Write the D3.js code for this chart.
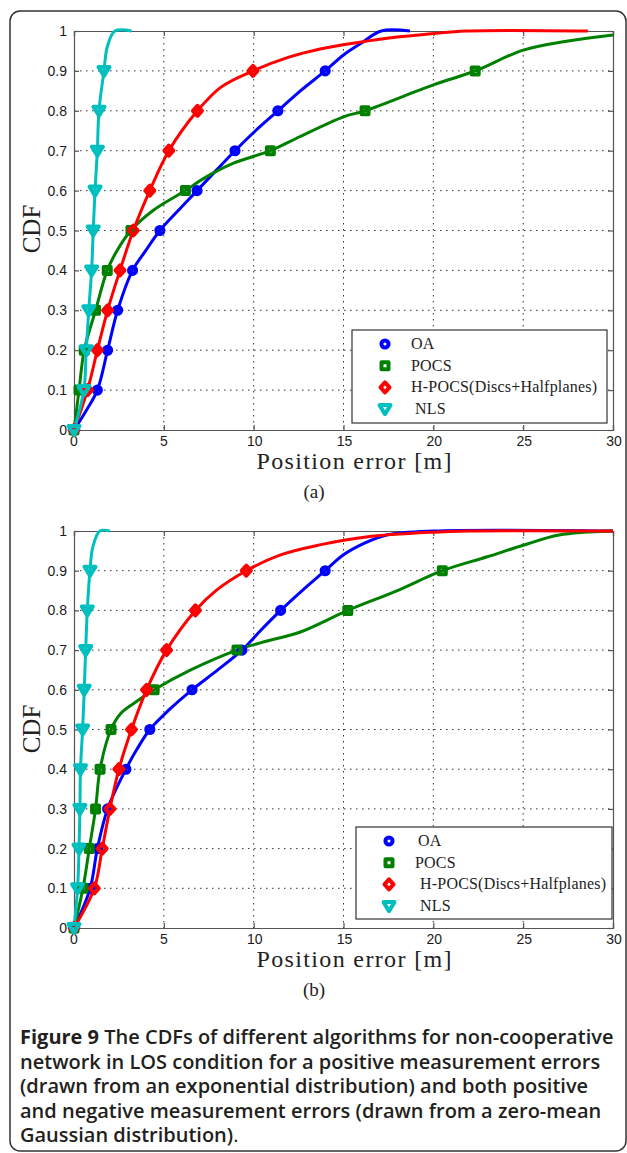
<!DOCTYPE html>
<html>
<head>
<meta charset="utf-8">
<script src="https://cdn.jsdelivr.net/npm/d3@7"></script>
<style>
    body { margin: 0; background: #fff; }
    svg { display: block; }
    .tick-label { font-family: 'Liberation Sans', Arial, sans-serif; font-size: 14px; fill: #1a1a1a; }
    .serif { font-family: 'Liberation Serif', 'Times New Roman', serif; fill: #222; }
    .caption { font-family: 'Open Sans', 'Noto Sans', sans-serif; font-size: 20px; fill: #231f20; }
</style>
</head>
<body>
<div id="chart"></div>
<script>
// CDF of position error, two panels: (a) exponential errors, (b) gaussian errors

const seriesNames = ['OA', 'POCS', 'H-POCS(Discs+Halfplanes)', 'NLS'];
const xTicks = [0, 5, 10, 15, 20, 25, 30];
const yTicks = [0, 0.1, 0.2, 0.3, 0.4, 0.5, 0.6, 0.7, 0.8, 0.9, 1];
const yTickLabels = ['0', '0.1', '0.2', '0.3', '0.4', '0.5', '0.6', '0.7', '0.8', '0.9', '1'];

// panel (a) curves: [position error (m), CDF]
const oaA = [[0, 0], [0.7, 0.05], [1.3, 0.1], [1.87, 0.2], [2.43, 0.3], [3.26, 0.4], [4.0, 0.45], [4.78, 0.5],
    [5.8, 0.55], [6.85, 0.6], [7.9, 0.65], [8.96, 0.7], [10.1, 0.75], [11.35, 0.8], [12.6, 0.85], [13.98, 0.9],
    [15.0, 0.94], [16.0, 0.97], [17.1, 1.0], [18.7, 1.0]];
const pocsA = [[0, 0], [0.28, 0.1], [0.57, 0.2], [1.2, 0.3], [1.85, 0.4], [2.4, 0.45], [3.17, 0.5], [4.4, 0.55],
    [6.2, 0.6], [7.2, 0.63], [8.85, 0.668], [10.93, 0.7], [12.56, 0.735], [15.0, 0.785], [16.2, 0.8], [20.0, 0.865],
    [22.33, 0.9], [25.0, 0.952], [27.5, 0.975], [30, 0.99]];
const hpocsA = [[0, 0], [0.75, 0.1], [1.3, 0.2], [1.87, 0.3], [2.56, 0.4], [3.3, 0.5], [4.22, 0.6], [5.28, 0.7],
    [6.87, 0.8], [8.2, 0.86], [9.96, 0.9], [12.0, 0.935], [13.7, 0.955], [15.9, 0.972], [18.0, 0.985],
    [19.9, 0.993], [21.8, 1.0], [28.6, 1.0]];
const nlsA = [[0, 0], [0.55, 0.1], [0.68, 0.2], [0.82, 0.3], [0.98, 0.4], [1.07, 0.5], [1.17, 0.6], [1.3, 0.7],
    [1.39, 0.8], [1.67, 0.9], [1.85, 0.96], [2.28, 1.0], [3.2, 1.0]];

// panel (b) curves
const oaB = [[0, 0], [0.9, 0.1], [1.3, 0.2], [1.87, 0.3], [2.89, 0.4], [3.5, 0.45], [4.22, 0.5], [5.3, 0.55],
    [6.57, 0.6], [8.0, 0.65], [9.35, 0.7], [10.4, 0.75], [11.5, 0.8], [12.7, 0.85], [13.98, 0.9], [15.0, 0.94],
    [16.2, 0.97], [17.4, 0.99], [20, 1.0], [30, 1.0]];
const pocsB = [[0, 0], [0.5, 0.1], [0.85, 0.2], [1.2, 0.3], [1.45, 0.4], [2.06, 0.5], [2.6, 0.54], [3.3, 0.565],
    [4.46, 0.6], [6.5, 0.65], [9.07, 0.7], [10.5, 0.72], [12.56, 0.745], [15.24, 0.8], [18.0, 0.85], [20.5, 0.9],
    [23.0, 0.935], [25.0, 0.964], [27.0, 0.99], [30, 1.0]];
const hpocsB = [[0, 0], [1.13, 0.1], [1.57, 0.2], [2.0, 0.3], [2.5, 0.4], [3.2, 0.5], [4.04, 0.6], [5.15, 0.7],
    [6.76, 0.8], [7.9, 0.85], [9.59, 0.9], [11.5, 0.94], [13.67, 0.965], [16.26, 0.985], [19.96, 0.997],
    [22, 1.0], [30, 1.0]];
const nlsB = [[0, 0], [0.2, 0.1], [0.28, 0.2], [0.33, 0.3], [0.36, 0.4], [0.48, 0.5], [0.57, 0.6], [0.65, 0.7],
    [0.74, 0.8], [0.89, 0.9], [1.05, 0.96], [1.44, 1.0], [2.0, 1.0]];

const captionLines = [
    ['Figure 9', ' The CDFs of different algorithms for non-cooperative'],
    ['', 'network in LOS condition for a positive measurement errors'],
    ['', '(drawn from an exponential distribution) and both positive'],
    ['', 'and negative measurement errors (drawn from a zero-mean'],
    ['', 'Gaussian distribution)']
];

const colors = ['#0000ff', '#008000', '#ff0000', '#00bfbf'];
const shapes = ['circle', 'square', 'diamond', 'triangle'];

const W = 627, H = 1153;
const svg = d3.select('#chart').append('svg')
    .attr('width', W)
    .attr('height', H);

// outer rounded frame
svg.append('rect')
    .attr('x', 10).attr('y', 11)
    .attr('width', 616).attr('height', 1140)
    .attr('rx', 10)
    .style('fill', 'none')
    .style('stroke', '#333')
    .style('stroke-width', 1.5);

function markerPath(shape) {
    if (shape === 'circle') return d3.symbol(d3.symbolCircle, 40)();
    if (shape === 'square') return 'M-3.5,-3.5H3.5V3.5H-3.5Z';
    if (shape === 'diamond') return 'M0,-5L4.5,0L0,5L-4.5,0Z';
    return 'M-5.5,-4H5.5L0,5Z';
}

function drawPanel(cfg) {
    const x = d3.scaleLinear().domain([0, 30]).range([74, 613]);
    const y = d3.scaleLinear().domain([0, 1]).range([cfg.bottom, cfg.top]);
    const g = svg.append('g');

    // dotted grid
    g.append('g').selectAll('line.vg')
        .data(xTicks.slice(1, -1))
        .enter().append('line')
        .attr('x1', d => x(d)).attr('x2', d => x(d))
        .attr('y1', cfg.top).attr('y2', cfg.bottom)
        .style('stroke', '#333').style('stroke-width', 1)
        .style('stroke-dasharray', '1.5,4.5');
    g.append('g').selectAll('line.hg')
        .data(yTicks.slice(1, -1))
        .enter().append('line')
        .attr('x1', 74).attr('x2', 613)
        .attr('y1', d => y(d)).attr('y2', d => y(d))
        .style('stroke', '#333').style('stroke-width', 1)
        .style('stroke-dasharray', '1.5,4.5');

    // axes box with inward ticks on all sides
    const xAxis = d3.axisBottom(x).tickValues(xTicks).tickSize(-5).tickFormat('');
    const yAxis = d3.axisLeft(y).tickValues(yTicks).tickSize(-5).tickFormat('');
    g.append('g').attr('transform', `translate(0,${cfg.bottom})`).call(xAxis);
    g.append('g').attr('transform', `translate(0,${cfg.top})`).call(d3.axisTop(x).tickValues(xTicks).tickSize(-5).tickFormat(''));
    g.append('g').attr('transform', 'translate(74,0)').call(yAxis);
    g.append('g').attr('transform', 'translate(613,0)').call(d3.axisRight(y).tickValues(yTicks).tickSize(-5).tickFormat(''));
    g.selectAll('.domain, .tick line').style('stroke', '#555').style('stroke-width', 1.2);

    // tick labels
    g.selectAll('text.xl')
        .data(xTicks)
        .enter().append('text')
        .attr('class', 'tick-label')
        .attr('x', d => x(d) + (d >= 10 ? 1 : 0))
        .attr('y', cfg.bottom + 16)
        .attr('text-anchor', 'middle')
        .text(d => d);
    g.selectAll('text.yl')
        .data(yTicks)
        .enter().append('text')
        .attr('class', 'tick-label')
        .attr('x', 67)
        .attr('y', d => y(d) + 5)
        .attr('text-anchor', 'end')
        .text((d, i) => yTickLabels[i]);

    // curves
    const line = d3.line()
        .x(d => x(d[0]))
        .y(d => y(d[1]))
        .curve(d3.curveCatmullRom.alpha(0.5));

    cfg.series.forEach((s, i) => {
        g.append('path')
            .datum(s)
            .attr('d', line)
            .style('fill', 'none')
            .style('stroke', colors[i])
            .style('stroke-width', 3)
            .style('stroke-linejoin', 'round');
    });

    // markers at every 0.1 CDF level
    cfg.series.forEach((s, i) => {
        const marks = s.filter(d => d[1] < 1 && Math.abs(d[1] * 10 - Math.round(d[1] * 10)) < 1e-9);
        g.selectAll(null)
            .data(marks)
            .enter().append('path')
            .attr('transform', d => `translate(${x(d[0])},${y(d[1])})`)
            .attr('d', markerPath(shapes[i]))
            .style('fill', 'none')
            .style('stroke', colors[i])
            .style('stroke-width', 4)
            .style('stroke-linejoin', 'round');
    });

    // axis titles
    g.append('text')
        .attr('class', 'serif')
        .attr('transform', `translate(${40},${cfg.labelY}) rotate(-90)`)
        .attr('text-anchor', 'middle')
        .style('font-size', '25px')
        .text('CDF');
    g.append('text')
        .attr('class', 'serif')
        .attr('x', 354)
        .attr('y', cfg.bottom + 39)
        .attr('text-anchor', 'middle')
        .attr('textLength', 195)
        .style('font-size', '24px')
        .text('Position error [m]');
    g.append('text')
        .attr('class', 'serif')
        .attr('x', 314)
        .attr('y', cfg.bottom + 68)
        .attr('text-anchor', 'middle')
        .style('font-size', '19px')
        .text(cfg.tag);

    // legend
    const lg = cfg.legend;
    g.append('rect')
        .attr('x', lg.x).attr('y', lg.y)
        .attr('width', lg.w).attr('height', lg.h)
        .style('fill', '#fff')
        .style('stroke', '#333')
        .style('stroke-width', 1.2);
    seriesNames.forEach((name, i) => {
        const ry = lg.y + 14 + i * 21.7;
        g.append('path')
            .attr('transform', `translate(${lg.mx},${ry})`)
            .attr('d', markerPath(shapes[i]))
            .style('fill', '#fff')
            .style('stroke', colors[i])
            .style('stroke-width', 4)
            .style('stroke-linejoin', 'round');
        g.append('text')
            .attr('class', 'serif')
            .attr('x', lg.tx[i])
            .attr('y', ry + 5)
            .style('font-size', '16px')
            .style('letter-spacing', '0.2px')
            .text(name);
    });
}

drawPanel({
    top: 31, bottom: 430, labelY: 229, tag: '(a)',
    series: [oaA, pocsA, hpocsA, nlsA],
    legend: { x: 352, y: 330, w: 255, h: 93, mx: 385, tx: [411, 411, 411, 415] }
});
drawPanel({
    top: 531, bottom: 928, labelY: 729, tag: '(b)',
    series: [oaB, pocsB, hpocsB, nlsB],
    legend: { x: 356, y: 827, w: 256, h: 92, mx: 389, tx: [418, 415, 420, 420] }
});

// caption
const cap = svg.append('text').attr('class', 'caption');
captionLines.forEach((ln, i) => {
    const by = 1044 + i * 24.5;
    if (ln[0]) {
        cap.append('tspan').attr('x', 20).attr('y', by)
            .style('font-weight', 700).text(ln[0]);
        cap.append('tspan').style('font-weight', 600).text(ln[1]);
    } else {
        cap.append('tspan').attr('x', 20).attr('y', by)
            .style('font-weight', 600).text(ln[1]);
    }
    if (i === captionLines.length - 1) {
        cap.append('tspan').style('font-weight', 400).text('.');
    }
});
</script>
</body>
</html>
